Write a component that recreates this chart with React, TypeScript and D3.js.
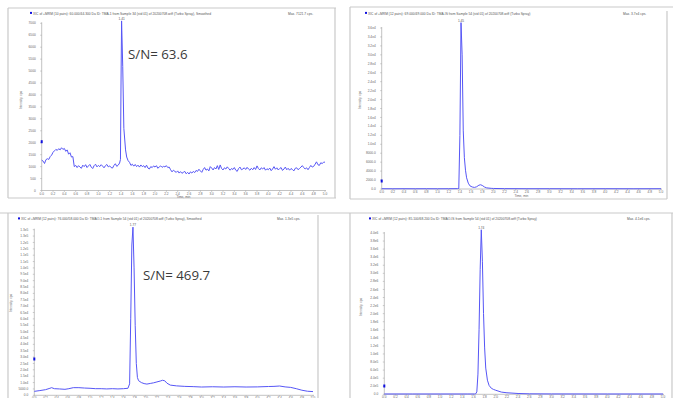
import React from 'react';
import * as d3 from 'd3';

type Pt = [number, number];

// time axis, shared by the four chromatograms
const xTicks = [0, 0.2, 0.4, 0.6, 0.8, 1.0, 1.2, 1.4, 1.6, 1.8, 2.0, 2.2, 2.4, 2.6, 2.8, 3.0, 3.2, 3.4, 3.6, 3.8, 4.0, 4.2, 4.4, 4.6, 4.8, 5.0];
const xLabels = ['0.0', '0.2', '0.4', '0.6', '0.8', '1.0', '1.2', '1.4', '1.6', '1.8', '2.0', '2.2', '2.4', '2.6', '2.8', '3.0', '3.2', '3.4', '3.6', '3.8', '4.0', '4.2', '4.4', '4.6', '4.8', '5.0'];

// TMA-1 (smoothed), time (min) / intensity (cps)
const tmaTrace: Pt[] = [
  [0.000, 1270], [0.025, 1230], [0.050, 1130], [0.075, 1290], [0.100, 1330], [0.125, 1300], [0.150, 1420],
  [0.175, 1480], [0.200, 1600], [0.225, 1660], [0.250, 1720], [0.275, 1680], [0.300, 1750], [0.325, 1700],
  [0.350, 1790], [0.375, 1720], [0.400, 1760], [0.425, 1640], [0.450, 1700], [0.475, 1520], [0.500, 1580],
  [0.525, 1400], [0.550, 1420], [0.575, 1000], [0.600, 1050], [0.625, 960], [0.650, 1040], [0.675, 980],
  [0.700, 930], [0.725, 1060], [0.750, 1000], [0.775, 1080], [0.800, 960], [0.825, 1030], [0.850, 1090],
  [0.875, 980], [0.900, 920], [0.925, 1040], [0.950, 1100], [0.975, 990], [1.000, 1050], [1.025, 1000],
  [1.050, 1080], [1.075, 1020], [1.100, 950], [1.125, 1040], [1.150, 1090], [1.175, 990], [1.200, 1030],
  [1.225, 960], [1.250, 940], [1.275, 1050], [1.300, 1120], [1.325, 1010], [1.350, 1060], [1.375, 1150],
  [1.390, 1300], [1.400, 4500], [1.410, 7100], [1.430, 5200], [1.450, 2600], [1.480, 1700], [1.500, 1400],
  [1.525, 1250], [1.550, 1180], [1.575, 1050], [1.600, 1100], [1.625, 1020], [1.650, 1090], [1.675, 1000],
  [1.700, 1060], [1.725, 980], [1.750, 1070], [1.775, 1000], [1.800, 1040], [1.825, 960], [1.850, 1060],
  [1.875, 940], [1.900, 900], [1.925, 1000], [1.950, 960], [1.975, 1030], [2.000, 980], [2.025, 1040],
  [2.050, 930], [2.075, 990], [2.100, 1030], [2.125, 970], [2.150, 1010], [2.175, 990], [2.200, 1040],
  [2.225, 960], [2.250, 980], [2.275, 870], [2.300, 780], [2.325, 850], [2.350, 800], [2.375, 760],
  [2.400, 820], [2.425, 730], [2.450, 790], [2.475, 720], [2.500, 760], [2.525, 800], [2.550, 700],
  [2.575, 760], [2.600, 690], [2.625, 780], [2.650, 730], [2.675, 800], [2.700, 750], [2.725, 840],
  [2.750, 800], [2.775, 890], [2.800, 820], [2.825, 760], [2.850, 880], [2.875, 960], [2.900, 850],
  [2.925, 900], [2.950, 820], [2.975, 1000], [3.000, 940], [3.025, 860], [3.050, 960], [3.075, 900],
  [3.100, 1040], [3.125, 880], [3.150, 1070], [3.175, 920], [3.200, 860], [3.225, 950], [3.250, 900],
  [3.275, 990], [3.300, 920], [3.325, 850], [3.350, 920], [3.375, 880], [3.400, 960], [3.425, 850],
  [3.450, 800], [3.475, 920], [3.500, 980], [3.525, 870], [3.550, 900], [3.575, 950], [3.600, 880],
  [3.625, 970], [3.650, 900], [3.675, 850], [3.700, 930], [3.725, 870], [3.750, 960], [3.775, 880],
  [3.800, 1030], [3.825, 920], [3.850, 860], [3.875, 950], [3.900, 900], [3.925, 960], [3.950, 850],
  [3.975, 910], [4.000, 870], [4.025, 940], [4.050, 830], [4.075, 900], [4.100, 1000], [4.125, 890],
  [4.150, 950], [4.175, 860], [4.200, 920], [4.225, 960], [4.250, 840], [4.275, 900], [4.300, 980],
  [4.325, 870], [4.350, 930], [4.375, 850], [4.400, 920], [4.425, 880], [4.450, 820], [4.475, 930],
  [4.500, 950], [4.525, 870], [4.550, 920], [4.575, 980], [4.600, 1040], [4.625, 960], [4.650, 900],
  [4.675, 950], [4.700, 870], [4.725, 960], [4.750, 1050], [4.775, 980], [4.800, 1010], [4.825, 1100],
  [4.850, 1200], [4.875, 1080], [4.900, 1050], [4.925, 1160], [4.950, 1130], [4.975, 1180], [5.000, 1190],
];

// TMA-IS
const tmaIsTrace: Pt[] = [
  [0.0, 60], [0.2, 50], [0.4, 60], [0.6, 50], [0.8, 60], [1.0, 50], [1.2, 60], [1.36, 80],
  [1.38, 100], [1.40, 12000], [1.42, 37200], [1.44, 30000], [1.46, 13000], [1.48, 7000],
  [1.50, 4200], [1.52, 2500], [1.55, 1300], [1.58, 700], [1.62, 450], [1.66, 350], [1.70, 500],
  [1.74, 850], [1.77, 950], [1.80, 800], [1.84, 450], [1.88, 250], [1.92, 200], [1.96, 150],
  [2.0, 120], [2.2, 80], [2.6, 60], [3.0, 60], [3.5, 50], [4.0, 60], [4.5, 50], [5.0, 60],
];

// TMAO-1 (smoothed)
const tmaoTrace: Pt[] = [
  [0.00, 3100], [0.10, 3700], [0.20, 4400], [0.28, 5500], [0.31, 6000], [0.36, 5200], [0.45, 5000],
  [0.55, 4700], [0.62, 5200], [0.70, 6000], [0.80, 6000], [0.90, 5700], [1.00, 5500], [1.10, 5200],
  [1.20, 5200], [1.30, 5000], [1.40, 5200], [1.50, 5000], [1.60, 5200], [1.68, 5500], [1.71, 9000],
  [1.73, 60000], [1.75, 118000], [1.77, 132000], [1.79, 100000], [1.81, 55000], [1.83, 25000],
  [1.85, 14000], [1.87, 11500], [1.92, 10000], [1.97, 9200], [2.02, 8800], [2.08, 9300],
  [2.14, 9800], [2.20, 10500], [2.26, 11200], [2.30, 11800], [2.34, 11400], [2.38, 9500],
  [2.44, 8000], [2.55, 7400], [2.70, 7000], [2.85, 6800], [3.00, 6500], [3.20, 6700], [3.40, 6500],
  [3.60, 6700], [3.80, 6500], [4.00, 6600], [4.20, 6900], [4.30, 7000], [4.40, 7300], [4.50, 6600],
  [4.60, 6200], [4.70, 5200], [4.80, 4000], [4.90, 3200], [5.00, 2900],
];

// TMAO-IS
const tmaoIsTrace: Pt[] = [
  [0.0, 8000], [0.5, 8000], [1.0, 8000], [1.5, 8000], [1.62, 8000], [1.64, 12000], [1.66, 60000],
  [1.68, 500000], [1.70, 1600000], [1.72, 3100000], [1.74, 4080000], [1.76, 3300000],
  [1.78, 2000000], [1.80, 1150000], [1.82, 650000], [1.85, 350000], [1.88, 220000], [1.92, 150000],
  [1.96, 120000], [2.00, 100000], [2.10, 55000], [2.20, 38000], [2.40, 20000], [2.60, 12000],
  [3.00, 9000], [4.00, 8000], [5.00, 8000],
];

const tmaYTicks = [0, 500, 1000, 1500, 2000, 2500, 3000, 3500, 4000, 4500, 5000, 5500, 6000, 6500, 7000];
const tmaYLabels = ['0', '500', '1000', '1500', '2000', '2500', '3000', '3500', '4000', '4500', '5000', '5500', '6000', '6500', '7000'];

const tmaIsYTicks = [0, 2000, 4000, 6000, 8000, 10000, 12000, 14000, 16000, 18000, 20000, 22000, 24000, 26000, 28000, 30000, 32000, 34000, 36000];
const tmaIsYLabels = ['0.0', '2000.0', '4000.0', '6000.0', '8000.0', '1.0e4', '1.2e4', '1.4e4', '1.6e4', '1.8e4', '2.0e4', '2.2e4', '2.4e4', '2.6e4', '2.8e4', '3.0e4', '3.2e4', '3.4e4', '3.6e4'];

const tmaoYTicks = [0, 5000, 10000, 15000, 20000, 25000, 30000, 35000, 40000, 45000, 50000, 55000, 60000, 65000, 70000, 75000, 80000, 85000, 90000, 95000, 100000, 105000, 110000, 115000, 120000, 125000, 130000];
const tmaoYLabels = ['0.0', '5000.0', '1.0e4', '1.5e4', '2.0e4', '2.5e4', '3.0e4', '3.5e4', '4.0e4', '4.5e4', '5.0e4', '5.5e4', '6.0e4', '6.5e4', '7.0e4', '7.5e4', '8.0e4', '8.5e4', '9.0e4', '9.5e4', '1.0e5', '1.1e5', '1.1e5', '1.2e5', '1.2e5', '1.3e5', '1.3e5'];

const tmaoIsYTicks = [0, 200000, 400000, 600000, 800000, 1000000, 1200000, 1400000, 1600000, 1800000, 2000000, 2200000, 2400000, 2600000, 2800000, 3000000, 3200000, 3400000, 3600000, 3800000, 4000000];
const tmaoIsYLabels = ['0.0', '2.0e5', '4.0e5', '6.0e5', '8.0e5', '1.0e6', '1.2e6', '1.4e6', '1.6e6', '1.8e6', '2.0e6', '2.2e6', '2.4e6', '2.6e6', '2.8e6', '3.0e6', '3.2e6', '3.4e6', '3.6e6', '3.8e6', '4.0e6'];

const titles = [
  'XIC of +MRM (10 pairs): 60.000/44.300 Da ID: TMA-1 from Sample 34 (std 01) of 20200708.wiff (Turbo Spray), Smoothed',
  'XIC of +MRM (12 pairs): 69.000/49.000 Da ID: TMA-IS from Sample 54 (std 01) of 20200708.wiff (Turbo Spray)',
  'XIC of +MRM (12 pairs): 76.000/58.000 Da ID: TMAO-1 from Sample 54 (std 01) of 20200708.wiff (Turbo Spray), Smoothed',
  'XIC of +MRM (12 pairs): 85.100/68.200 Da ID: TMAO-IS from Sample 54 (std 01) of 20200708.wiff (Turbo Spray)',
];
const maxLabels = ['Max. 7121.7 cps.', 'Max. 3.7e4 cps.', 'Max. 1.3e5 cps.', 'Max. 4.1e6 cps.'];
const peakLabels = ['1.41', '1.45', '1.77', '1.74'];
const peakTimes = [1.41, 1.42, 1.77, 1.74];
const snLabels = ['S/N= 63.6', '', 'S/N= 469.7', ''];

const FONT = '"Liberation Sans", Arial, sans-serif';
const LINE = '#5656f6';
const GRID = '#c9c9c9';

interface Layout {
  x0: number; x1: number; yBase: number; yTop: number; yMax: number;
  titleX: number; titleY: number; maxX: number;
  yLabX: number; yLabY: number; xLabY: number;
  markY: number; peakY: number;
  snX: number; snY: number;
  frame: [number, number, number, number][];
}

const layouts: Layout[] = [
  { x0: 41.7, x1: 325, yBase: 190.5, yTop: 23.3, yMax: 7000, titleX: 33, titleY: 14.5, maxX: 288,
    yLabX: 22, yLabY: 100, xLabY: 197.5, markY: 141.7, peakY: 22.5, snX: 128, snY: 59,
    frame: [[8, 8, 336, 8], [8, 8, 8, 198], [335, 8, 335, 198], [8, 198, 336, 198]] },
  { x0: 381.7, x1: 661, yBase: 189, yTop: 28, yMax: 36000, titleX: 368, titleY: 14.5, maxX: 623,
    yLabX: 361, yLabY: 100, xLabY: 196.5, markY: 181, peakY: 23.5, snX: 0, snY: 0,
    frame: [[350, 7, 673, 7], [350, 7, 350, 199], [667, 11, 667, 199], [350, 199, 667, 199]] },
  { x0: 34.3, x1: 313, yBase: 395.3, yTop: 229.7, yMax: 130000, titleX: 21, titleY: 220, maxX: 277,
    yLabX: 12, yLabY: 303, xLabY: 404, markY: 359, peakY: 229, snX: 143, snY: 280,
    frame: [[0, 213, 340, 213], [8, 213, 8, 398], [318, 215, 318, 398]] },
  { x0: 384.3, x1: 663, yBase: 394.3, yTop: 233, yMax: 4000000, titleX: 372, titleY: 220, maxX: 627,
    yLabX: 362, yLabY: 307, xLabY: 404, markY: 386, peakY: 229, snX: 0, snY: 0,
    frame: [[340, 213, 673, 213], [350, 213, 350, 398], [672, 213, 672, 398]] },
];

const traces = [tmaTrace, tmaIsTrace, tmaoTrace, tmaoIsTrace];
const yTickSets = [tmaYTicks, tmaIsYTicks, tmaoYTicks, tmaoIsYTicks];
const yLabelSets = [tmaYLabels, tmaIsYLabels, tmaoYLabels, tmaoIsYLabels];

function Panel({ i }: { i: number }) {
  const L = layouts[i];
  const x = d3.scaleLinear().domain([0, 5]).range([L.x0, L.x1]);
  const y = d3.scaleLinear().domain([0, L.yMax]).range([L.yBase, L.yTop]);
  const line = d3.line<Pt>().x(d => x(d[0])).y(d => y(d[1]));
  const ticks = yTickSets[i];
  const labels = yLabelSets[i];
  const peakT = peakTimes[i];
  const peakV = d3.max(traces[i], d => d[1]) as number;

  return (
    <g fontFamily={FONT}>
      {L.frame.map((f, k) => (
        <line key={k} x1={f[0]} y1={f[1]} x2={f[2]} y2={f[3]} stroke={GRID} strokeWidth={1.2} />
      ))}
      <rect x={L.titleX - 3} y={L.titleY - 2.6} width={2} height={2} fill="#1010e0" />
      <text x={L.titleX} y={L.titleY} fontSize={3.3} fill="#555">{titles[i]}</text>
      <text x={L.maxX} y={L.titleY} fontSize={3.3} fill="#555">{maxLabels[i]}</text>

      {/* y axis */}
      <line x1={L.x0} x2={L.x0} y1={L.yBase} y2={L.yTop - 1} stroke="#9a9a9a" strokeWidth={0.6} />
      {ticks.map((t, k) => (
        <g key={k}>
          <line x1={L.x0 - 1.5} x2={L.x0} y1={y(t)} y2={y(t)} stroke="#9a9a9a" strokeWidth={0.5} />
          <text x={L.x0 - 6} y={y(t) + 1.1} fontSize={3.2} fill="#666" textAnchor="end">{labels[k]}</text>
        </g>
      ))}
      <text transform={`translate(${L.yLabX},${L.yLabY}) rotate(-90)`} fontSize={3.2} fill="#666" textAnchor="middle">Intensity, cps</text>

      {/* x axis */}
      <line x1={L.x0} x2={L.x1 + 1} y1={L.yBase} y2={L.yBase} stroke="#9a9a9a" strokeWidth={0.6} />
      {xTicks.map((t, k) => (
        <g key={k}>
          <line x1={x(t)} x2={x(t)} y1={L.yBase} y2={L.yBase + 1.5} stroke="#9a9a9a" strokeWidth={0.5} />
          <text x={x(t)} y={L.yBase + 4} fontSize={3.2} fill="#666" textAnchor="middle">{xLabels[k]}</text>
        </g>
      ))}
      <text x={(L.x0 + L.x1) / 2} y={L.xLabY} fontSize={3.2} fill="#666" textAnchor="middle">Time, min</text>

      <rect x={L.x0 - 1} y={L.markY - 1.5} width={2} height={3} fill="#1010e0" />

      <path d={line(traces[i]) ?? ''} fill="none" stroke={LINE} strokeWidth={1} strokeLinejoin="round" />
      <text x={x(peakT)} y={Math.min(L.peakY, y(peakV) - 1)} fontSize={3.2} fill="#555" textAnchor="middle">{peakLabels[i]}</text>

      {snLabels[i] && (
        <text x={L.snX} y={L.snY} fontSize={13.3} fill="#3a3a3a" fontFamily='"Open Sans", sans-serif'>{snLabels[i]}</text>
      )}
    </g>
  );
}

export default function App() {
  return (
    <svg width={673} height={398} viewBox="0 0 673 398"
      style={{ position: 'absolute', left: 0, top: 0, background: '#fff' }}>
      <rect width={673} height={398} fill="#fff" />
      {[0, 1, 2, 3].map(i => <Panel key={i} i={i} />)}
    </svg>
  );
}
